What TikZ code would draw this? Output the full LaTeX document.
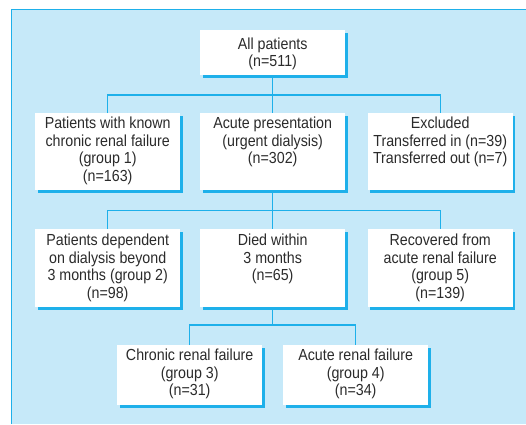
\documentclass[tikz,border=0pt]{standalone}
\usepackage{fontspec}
\setmainfont{Liberation Sans}[FakeStretch=0.89]
\usepackage{tikz}
\usetikzlibrary{shadows}

\definecolor{panelblue}{HTML}{C6E9F9}
\definecolor{linecyan}{HTML}{1EB0EA}
\definecolor{textgray}{HTML}{2B2B2B}

% text of a box, set from its top edge
\newcommand{\boxtext}[3][4pt]{\parbox[t][#2][t]{145pt}{\centering\vspace*{#1}#3}}

\begin{document}
\begin{tikzpicture}[x=1pt,y=-1pt,
    box/.style={anchor=north west, inner sep=0pt, fill=white, text=textgray,
      font=\fontsize{16}{17.5}\selectfont,
      drop shadow={shadow xshift=2.5pt, shadow yshift=-2.5pt, fill=linecyan, opacity=1}},
    link/.style={draw=linecyan, line width=1.2pt}]
    \useasboundingbox (0,0) rectangle (526,424);
    % panel
    \fill[panelblue] (11.5,9.5) rectangle (526,424);
    \draw[linecyan, line width=1.5pt] (11.5,424) -- (11.5,9.5) -- (526,9.5);

    \node[box] (all) at (200,30) {\boxtext[7.5pt]{45pt}{All patients\\(n=511)}};

    \node[box] (grp1) at (35,113) {\boxtext{77pt}{Patients with known\\chronic renal failure\\(group 1)\\(n=163)}};
    \node[box] (acute) at (200,113) {\boxtext{77pt}{Acute presentation\\(urgent dialysis)\\(n=302)}};
    \node[box] (excl) at (367.5,113) {\boxtext{77pt}{Excluded\\Transferred in (n=39)\\Transferred out (n=7)}};

    \node[box] (grp2) at (35,229) {\boxtext[5pt]{78pt}{Patients dependent\\on dialysis beyond\\3 months (group 2)\\(n=98)}};
    \node[box] (died) at (200,229) {\boxtext[5pt]{78pt}{Died within\\3 months\\(n=65)}};
    \node[box] (grp5) at (367.5,229) {\boxtext[5pt]{78pt}{Recovered from\\acute renal failure\\(group 5)\\(n=139)}};

    \node[box] (grp3) at (117,345) {\boxtext{60pt}{Chronic renal failure\\(group 3)\\(n=31)}};
    \node[box] (grp4) at (283,345) {\boxtext{60pt}{Acute renal failure\\(group 4)\\(n=34)}};

    % connectors
    \draw[link] (all.south) -- ++(0,19.5) coordinate (j1);
    \draw[link] (grp1.north) |- (j1) -| (excl.north);
    \draw[link] (j1) -- (acute.north);

    \draw[link] (acute.south) -- ++(0,20) coordinate (j2);
    \draw[link] (grp2.north) |- (j2) -| (grp5.north);
    \draw[link] (j2) -- (died.north);

    \draw[link] (died.south) -- ++(0,17.5) coordinate (j3);
    \draw[link] (grp3.north) |- (j3) -| (grp4.north);
\end{tikzpicture}
\end{document}
